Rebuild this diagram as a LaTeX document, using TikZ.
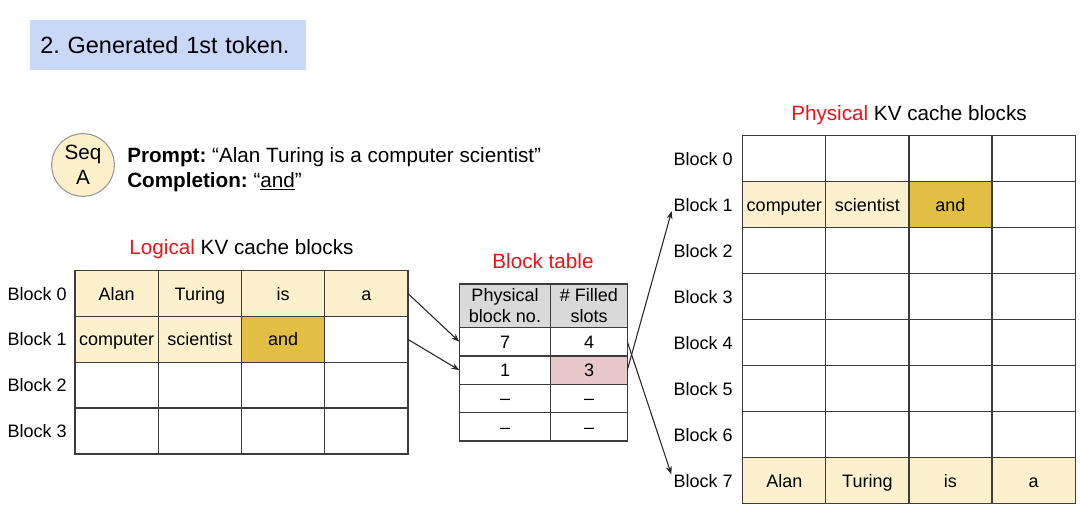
\documentclass[tikz,border=0pt]{standalone}
\usepackage{fontspec}
\setmainfont{Liberation Sans}
\usetikzlibrary{arrows.meta}
\frenchspacing
\definecolor{titlebg}{RGB}{201,216,247}
\definecolor{lyellow}{RGB}{252,241,204}
\definecolor{gold}{RGB}{226,190,66}
\definecolor{pinkc}{RGB}{232,200,200}
\definecolor{headgray}{RGB}{217,217,217}
\definecolor{gridc}{RGB}{60,60,60}
\definecolor{redc}{RGB}{232,20,26}
\definecolor{circgray}{RGB}{150,150,150}
\definecolor{seqfill}{RGB}{252,240,202}
\begin{document}
\begin{tikzpicture}[x=0.75pt,y=-0.75pt,
  cellfont/.style={font=\fontsize{13.5}{16}\selectfont, text height=9.7pt, text depth=0pt},
  lcell/.style={cellfont, draw=gridc, line width=0.9pt, minimum width=62.4pt, minimum height=34.4pt, inner sep=0pt, outer sep=0pt},
  pcell/.style={cellfont, draw=gridc, line width=0.9pt, minimum width=62.3pt, minimum height=34.5pt, inner sep=0pt, outer sep=0pt},
  tcellA/.style={cellfont, draw=gridc, line width=0.9pt, minimum width=68.55pt, minimum height=21.3pt, inner sep=0pt, outer sep=0pt},
  tcellB/.style={cellfont, draw=gridc, line width=0.9pt, minimum width=57.45pt, minimum height=21.3pt, inner sep=0pt, outer sep=0pt},
  thead/.style={font=\fontsize{13.5}{16}\selectfont, align=center, fill=headgray, draw=gridc, line width=0.9pt, minimum height=32.5pt, inner sep=0pt, outer sep=0pt},
  lbl/.style={cellfont, inner sep=0pt, anchor=east},
  heading/.style={font=\fontsize{15.5}{18}\selectfont, text height=11.1pt, text depth=0pt, inner sep=0pt},
  arr/.style={draw=black!85, line width=0.8pt, -{Stealth[length=6pt,width=4.5pt]}}
]
\useasboundingbox (0,0) rectangle (1080,531);

% title
\node[fill=titlebg, anchor=north west, text width=192pt, inner xsep=7.5pt, inner ysep=0pt,
      minimum height=37.5pt, align=left, font=\fontsize{17.6}{20}\selectfont] (title) at (30,20) {2. Generated 1st token.};

% sequence
\node[circle, draw=circgray, line width=0.8pt, fill=seqfill, minimum size=47pt, inner sep=0pt, align=center,
      font=\fontsize{15.5}{18.75}\selectfont] (seq) at (83,165) {Seq\\A};
\node[anchor=base west, inner sep=0pt, font=\fontsize{15.5}{18}\selectfont] (prompt) at (127,162)
  {\textbf{Prompt:} “Alan Turing is a computer scientist”};
\node[anchor=base west, inner sep=0pt, font=\fontsize{15.5}{18}\selectfont] (compl) at (127,187)
  {\textbf{Completion:} “\underline{and}”};

% logical blocks
\node[heading] (lhead) at (241.5,247) {\textcolor{redc}{Logical} KV cache blocks};
\foreach \r in {0,...,3}{
  \node[lbl] (LB\r) at (67,{270.7+45.8*(\r+0.5)}) {Block \r};
}
\node[lcell, fill=lyellow] (L00) at (116.6,293.6) {Alan};
\node[lcell, fill=lyellow] (L01) at (199.9,293.6) {Turing};
\node[lcell, fill=lyellow] (L02) at (283.1,293.6) {is};
\node[lcell, fill=lyellow] (L03) at (366.4,293.6) {a};
\node[lcell, fill=lyellow] (L10) at (116.6,339.4) {computer};
\node[lcell, fill=lyellow] (L11) at (199.9,339.4) {scientist};
\node[lcell, fill=gold] (L12) at (283.1,339.4) {and};
\node[lcell] (L13) at (366.4,339.4) {};
\foreach \r in {2,3}{
  \foreach \c in {0,...,3}{
    \node[lcell] (L\r\c) at ({75+83.25*(\c+0.5)},{270.7+45.8*(\r+0.5)}) {};
  }
}

% block table
\node[heading] (bthead) at (543,261) {\textcolor{redc}{Block table}};
\node[thead, minimum width=68.55pt] (TH1) at (505,305.7) {Physical\\block no.};
\node[thead, minimum width=57.45pt] (TH2) at (589,305.7) {\# Filled\\slots};
\node[tcellA] (T11) at (505,341.7) {7};
\node[tcellB] (T12) at (589,341.7) {4};
\node[tcellA] (T21) at (505,370.1) {1};
\node[tcellB, fill=pinkc] (T22) at (589,370.1) {3};
\node[tcellA] (T31) at (505,398.5) {–};
\node[tcellB] (T32) at (589,398.5) {–};
\node[tcellA] (T41) at (505,426.8) {–};
\node[tcellB] (T42) at (589,426.8) {–};

% physical blocks
\node[heading] (phead) at (909,113) {\textcolor{redc}{Physical} KV cache blocks};
\foreach \r in {0,...,7}{
  \node[lbl] (PB\r) at (733,{135.7+46*(\r+0.5)}) {Block \r};
}
\foreach \r in {0,2,3,4,5,6}{
  \foreach \c in {0,...,3}{
    \node[pcell] (P\r\c) at ({742.7+83.1*(\c+0.5)},{135.7+46*(\r+0.5)}) {};
  }
}
\node[pcell, fill=lyellow] (P10) at (784.25,204.7) {computer};
\node[pcell, fill=lyellow] (P11) at (867.35,204.7) {scientist};
\node[pcell, fill=gold] (P12) at (950.45,204.7) {and};
\node[pcell] (P13) at (1033.55,204.7) {};
\node[pcell, fill=lyellow] (P70) at (784.25,480.7) {Alan};
\node[pcell, fill=lyellow] (P71) at (867.35,480.7) {Turing};
\node[pcell, fill=lyellow] (P72) at (950.45,480.7) {is};
\node[pcell, fill=lyellow] (P73) at (1033.55,480.7) {a};

% arrows
\draw[arr] (L03.east) -- (T11.west);
\draw[arr] (L13.east) -- (T21.west);
\draw[arr, shorten >=5pt] (T22.east) -- (PB1.west);
\draw[arr, shorten >=5pt] (T12.east) -- (PB7.west);
\end{tikzpicture}
\end{document}
